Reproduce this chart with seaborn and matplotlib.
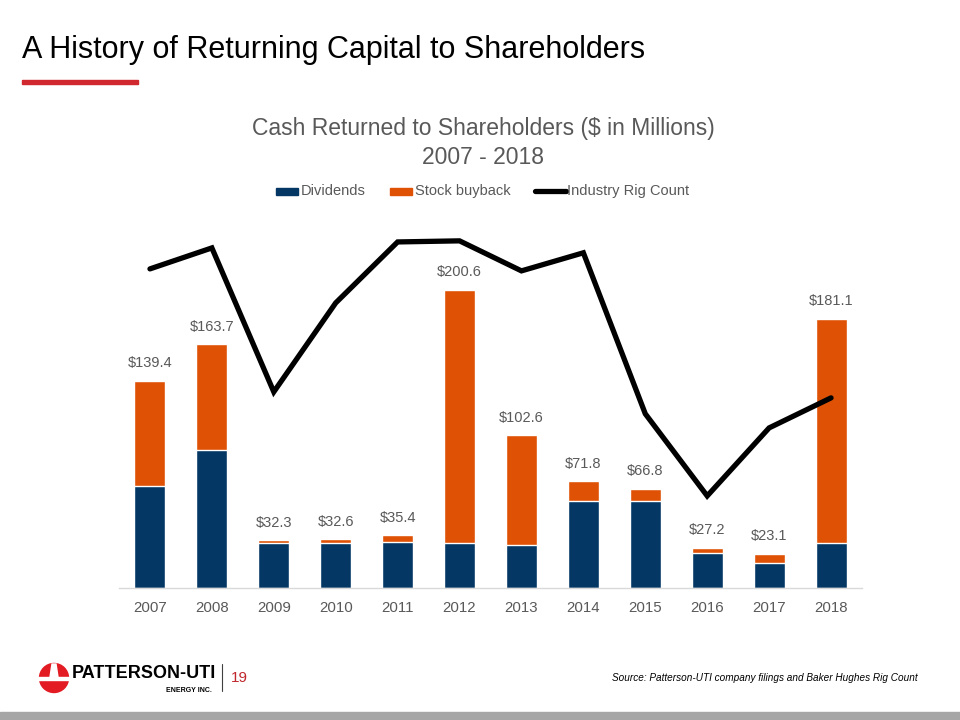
import numpy as np
import matplotlib
matplotlib.use("Agg")
import matplotlib.pyplot as plt
import seaborn as sns
from matplotlib.patches import Circle, Polygon, Rectangle

# values
years = ["2007", "2008", "2009", "2010", "2011", "2012",
         "2013", "2014", "2015", "2016", "2017", "2018"]
totals = [139.4, 163.7, 32.3, 32.6, 35.4, 200.6, 102.6, 71.8, 66.8, 27.2, 23.1, 181.1]
dividends = [68.4, 92.6, 30.4, 30.4, 30.9, 30.4, 28.9, 58.6, 58.6, 23.7, 16.6, 30.4]
rig_count = [1764, 1880, 1084, 1576, 1913, 1919, 1753, 1853, 963, 509, 885, 1051]

navy = "#053765"
orange = "#DF5205"
grey = "#595959"

sns.set_theme(style="white")
plt.rcParams["font.family"] = ["Liberation Sans", "DejaVu Sans"]
narrow = ["Liberation Sans Narrow", "Liberation Sans", "DejaVu Sans"]

fig = plt.figure(figsize=(9.6, 7.2), dpi=100)
ax = fig.add_axes([119 / 960, 1 - 588 / 720, (862 - 119) / 960, 372 / 720])

# stacked bars: total (buyback on top) drawn first, dividends over it
sns.barplot(x=years, y=totals, color=orange, width=0.5, saturation=1, ax=ax)
sns.barplot(x=years, y=dividends, color=navy, width=0.5, saturation=1, ax=ax)
ax.set_xlim(-0.5, 11.5)
ax.set_ylim(0, 250)

for i, t in enumerate(totals):
    ax.annotate(f"${t:.1f}", (i, t), xytext=(0, 7.5), textcoords="offset points",
                ha="center", va="bottom", fontsize=10.5, color=grey)

ax.set_yticks([])
ax.set_xlabel("")
ax.set_ylabel("")
ax.tick_params(axis="x", length=0, labelsize=10.8, labelcolor=grey, pad=9)
for s in ["top", "right", "left"]:
    ax.spines[s].set_visible(False)
ax.spines["bottom"].set_color("#d9d9d9")
ax.spines["bottom"].set_linewidth(1)

ax2 = ax.twinx()
sns.lineplot(x=np.arange(len(years)), y=rig_count, color="black", linewidth=3.8,
             ax=ax2, solid_joinstyle="miter")
ax2.set_ylim(0, 372 / 0.1809)
ax2.set_yticks([])
ax2.set_ylabel("")
for s in ax2.spines.values():
    s.set_visible(False)
ax2.set_xlim(-0.5, 11.5)

# slide header
fig.text(22 / 960, 1 - 50 / 720, "A History of Returning Capital to Shareholders",
         fontsize=22, color="black", va="center", ha="left", family=narrow)
fig.patches.append(Rectangle((22 / 960, 1 - 84 / 720), 116 / 960, 4 / 720,
                             transform=fig.transFigure, color="#D0282E"))

# chart title
fig.text(483 / 960, 1 - 129 / 720, "Cash Returned to Shareholders ($ in Millions)",
         fontsize=16.5, color=grey, ha="center", va="center")
fig.text(483 / 960, 1 - 157 / 720, "2007 - 2018",
         fontsize=16.5, color=grey, ha="center", va="center")

# legend
ly = 1 - 191 / 720
fig.patches.append(Rectangle((276 / 960, ly - 3.5 / 720), 22 / 960, 7 / 720,
                             transform=fig.transFigure, color=navy))
fig.text(301 / 960, ly, "Dividends", fontsize=10.5, color=grey, va="center")
fig.patches.append(Rectangle((390 / 960, ly - 3.5 / 720), 22 / 960, 7 / 720,
                             transform=fig.transFigure, color=orange))
fig.text(415 / 960, ly, "Stock buyback", fontsize=10.5, color=grey, va="center")
fig.lines.append(plt.Line2D([535 / 960, 566 / 960], [ly, ly], transform=fig.transFigure,
                            color="black", linewidth=3.8))
fig.text(567 / 960, ly, "Industry Rig Count", fontsize=10.5, color=grey, va="center")

# footer logo
fig.patches.append(Circle((54, 720 - 678), 14.5, transform=None, color="#E31B23"))
fig.patches.append(Polygon([(52, 720 - 664), (56, 720 - 664), (58, 720 - 677), (50, 720 - 677)],
                           closed=True, transform=None, color="white"))
fig.patches.append(Rectangle((38, 720 - 680), 32, 3, transform=None, color="white"))
fig.text(72 / 960, 1 - 673 / 720, "PATTERSON-UTI", fontsize=13, fontweight="bold",
         color="black", va="center", family=narrow)
fig.text(212 / 960, 1 - 690 / 720, "ENERGY INC.", fontsize=5, fontweight="bold",
         color="black", va="center", ha="right")
fig.lines.append(plt.Line2D([222 / 960, 222 / 960], [1 - 664 / 720, 1 - 691 / 720],
                            transform=fig.transFigure, color="#404040", linewidth=0.8))
fig.text(231 / 960, 1 - 678 / 720, "19", fontsize=11, color="#C0282E", va="center")

fig.text(918 / 960, 1 - 678 / 720,
         "Source: Patterson-UTI company filings and Baker Hughes Rig Count",
         fontsize=7.2, style="italic", color="black", ha="right", va="center", family=narrow)

fig.patches.append(Rectangle((0, 0), 1, 8 / 720, transform=fig.transFigure, color="#A6A6A6"))

fig.savefig("out.png", dpi=100)
